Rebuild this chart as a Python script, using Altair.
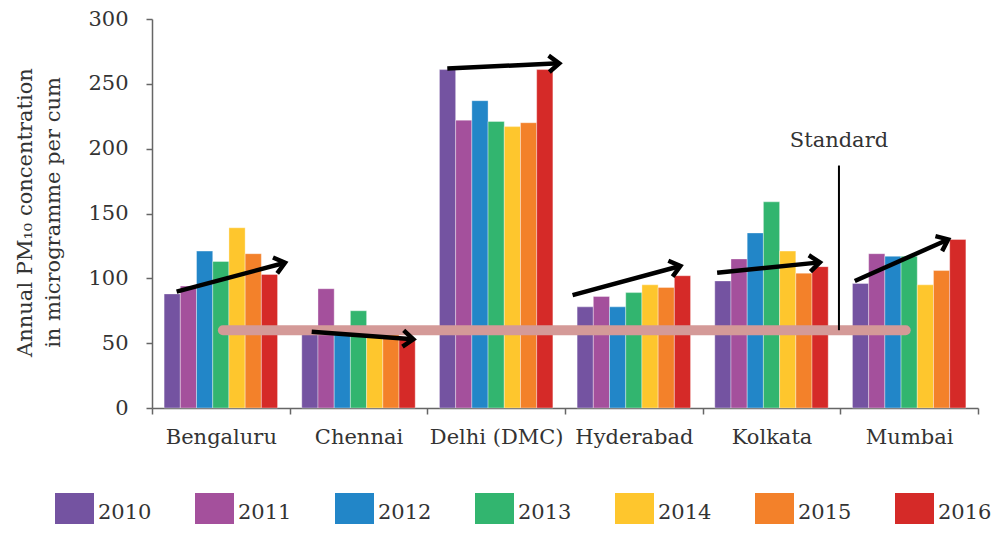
import json
import math
import altair as alt
import pandas as pd

# ---- data ----
cities = ["Bengaluru", "Chennai", "Delhi (DMC)", "Hyderabad", "Kolkata", "Mumbai"]
years = ["2010", "2011", "2012", "2013", "2014", "2015", "2016"]
colors = ["#7453a1", "#a4509c", "#2286c8", "#32b56f", "#fec62d", "#f3812a", "#d52a28"]

bengaluru = [88, 94, 121, 113, 139, 119, 103]
chennai = [59, 92, 60, 75, 58, 61, 53]
delhi = [261, 222, 237, 221, 217, 220, 261]
hyderabad = [78, 86, 78, 89, 95, 93, 102]
kolkata = [98, 115, 135, 159, 121, 104, 109]
mumbai = [96, 119, 117, 117, 95, 106, 130]
city_values = [bengaluru, chennai, delhi, hyderabad, kolkata, mumbai]

standard_value = [60]
standard_x = [0.515]
standard_x2 = [5.475]
standard_label = ["Standard"]
standard_label_x = [4.99]
standard_label_y = [206]
standard_mark_top = [187]

# trend arrows (tail -> tip), x in city-band units, y in data units
arrow_x_start = [0.179, 1.160, 2.145, 3.055, 4.105, 5.105]
arrow_y_start = [89.7, 58.8, 261.9, 87.1, 104.3, 97.9]
arrow_x_end = [0.966, 1.898, 2.958, 3.838, 4.851, 5.783]
arrow_y_end = [112.0, 53.0, 265.8, 109.5, 112.3, 130.0]

W, H = 826, 389
XMAX, YMAX = 6, 300
FONT = "DejaVu Serif"
TXT = "#333333"
pad = 0.088
bw = (1 - 2 * pad) / len(years)

rows = []
for i, (c, vals) in enumerate(zip(cities, city_values)):
    for j, (yr, v) in enumerate(zip(years, vals)):
        x0 = i + pad + j * bw
        rows.append(dict(city=c, year=yr, value=v, x0=x0, x1=x0 + bw))
df = pd.DataFrame(rows)

xscale = alt.Scale(domain=[0, XMAX], nice=False, zero=False)
yscale = alt.Scale(domain=[0, YMAX], nice=False)

label_expr = "datum.value % 1 == 0.5 ? " + json.dumps(cities) + "[floor(datum.value)] : ''"

x_axis = alt.Axis(
    values=[k / 2 for k in range(0, 2 * XMAX + 1)],
    labelExpr=label_expr,
    tickOpacity={"condition": {"test": "datum.value % 1 == 0", "value": 1}, "value": 0},
    tickSize=6, tickColor="#666666", tickWidth=1.5,
    domainColor="#666666", domainWidth=1.5,
    labelFont=FONT, labelFontSize=21, labelColor=TXT, labelPadding=12,
    labelOverlap=False, labelFlush=False, grid=False, title=None,
)
y_axis = alt.Axis(
    values=[0, 50, 100, 150, 200, 250, 300],
    tickSize=6, tickColor="#666666", tickWidth=1.5,
    domainColor="#666666", domainWidth=1.5,
    labelFont=FONT, labelFontSize=21, labelColor=TXT, labelPadding=18,
    grid=False,
    title=["Annual PM₁₀ concentration", "in microgramme per cum"],
    titleFont=FONT, titleFontSize=21, titleFontWeight="normal", titleColor=TXT,
    titleX=-127, titleY=193, titleAngle=270, titleAlign="center",
    titleBaseline="middle", titleLineHeight=28,
)

bars = alt.Chart(df).mark_bar(stroke="white", strokeWidth=0.6, strokeOpacity=0.6).encode(
    x=alt.X("x0:Q", scale=xscale, axis=x_axis),
    x2="x1:Q",
    y=alt.Y("value:Q", scale=yscale, axis=y_axis),
    y2=alt.datum(0),
    color=alt.Color(
        "year:N",
        scale=alt.Scale(domain=years, range=colors),
        legend=alt.Legend(
            title=None, orient="none", legendX=-97, legendY=474,
            direction="horizontal", columns=7,
            symbolType="square", symbolSize=1521, symbolStrokeWidth=0,
            labelFont=FONT, labelFontSize=21, labelColor=TXT,
            labelOffset=4, columnPadding=43, padding=0,
        ),
    ),
)

std_df = pd.DataFrame({"x": standard_x, "x2": standard_x2, "y": standard_value})
std_line = alt.Chart(std_df).mark_rule(color="#d49a98", strokeWidth=10, strokeCap="round").encode(
    x=alt.X("x:Q", scale=xscale), x2="x2:Q", y=alt.Y("y:Q", scale=yscale)
)

mark_df = pd.DataFrame({"x": standard_label_x, "y": standard_value, "y2": standard_mark_top})
std_mark = alt.Chart(mark_df).mark_rule(color="black", strokeWidth=2).encode(
    x=alt.X("x:Q", scale=xscale), y=alt.Y("y:Q", scale=yscale), y2="y2:Q"
)

lab_df = pd.DataFrame({"x": standard_label_x, "y": standard_label_y, "t": standard_label})
std_text = alt.Chart(lab_df).mark_text(font=FONT, fontSize=21, color=TXT, baseline="middle", align="center").encode(
    x=alt.X("x:Q", scale=xscale), y=alt.Y("y:Q", scale=yscale), text="t:N"
)

px_x = W / XMAX
px_y = H / YMAX
angles = []
for xs, ys, xe, ye in zip(arrow_x_start, arrow_y_start, arrow_x_end, arrow_y_end):
    dx = (xe - xs) * px_x
    dy = -(ye - ys) * px_y
    angles.append(math.degrees(math.atan2(dy, dx)) % 360)

arr_df = pd.DataFrame({
    "xs": arrow_x_start, "ys": arrow_y_start,
    "xe": arrow_x_end, "ye": arrow_y_end, "angle": angles,
})
shafts = alt.Chart(arr_df).mark_rule(color="black", strokeWidth=4.5).encode(
    x=alt.X("xs:Q", scale=xscale), y=alt.Y("ys:Q", scale=yscale), x2="xe:Q", y2="ye:Q"
)
heads = alt.Chart(arr_df).mark_point(
    shape="M-1,-0.8L0,0L-1,0.8", filled=False, size=420, strokeWidth=4.5,
    color="black", opacity=1, strokeJoin="miter",
).encode(
    x=alt.X("xe:Q", scale=xscale), y=alt.Y("ye:Q", scale=yscale),
    angle=alt.Angle("angle:Q", scale=None),
)

chart = alt.layer(bars, std_line, shafts, heads, std_mark, std_text).properties(
    width=W, height=H,
    autosize=alt.AutoSizeParams(type="none"),
    padding={"left": 144, "top": 11, "right": 14, "bottom": 116},
).configure_view(stroke=None)

chart.save("out.html", embed_options={"renderer": "svg", "actions": False})
